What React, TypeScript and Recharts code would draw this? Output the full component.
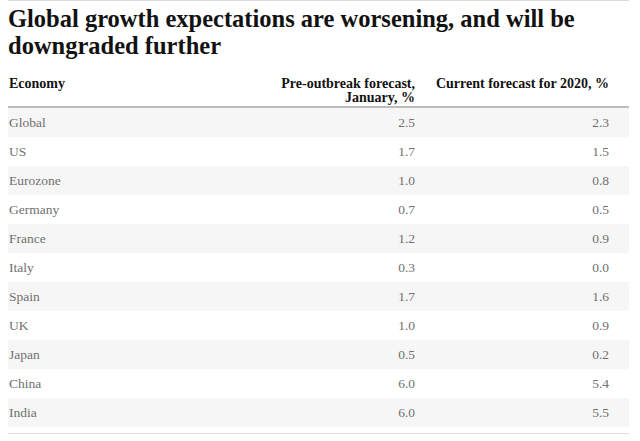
import { BarChart, Bar, XAxis, YAxis, LabelList } from 'recharts'

const economies = ['Global', 'US', 'Eurozone', 'Germany', 'France', 'Italy', 'Spain', 'UK', 'Japan', 'China', 'India']
const preOutbreak = [2.5, 1.7, 1.0, 0.7, 1.2, 0.3, 1.7, 1.0, 0.5, 6.0, 6.0]
const current2020 = [2.3, 1.5, 0.8, 0.5, 0.9, 0.0, 1.6, 0.9, 0.2, 5.4, 5.5]

const titleLines = ['Global growth expectations are worsening, and will be', 'downgraded further']
const colHeaders = {
  economy: ['Economy'],
  pre: ['Pre-outbreak forecast,', 'January, %'],
  current: ['Current forecast for 2020, %'],
}

const rows = economies.map((name, i) => ({ name, pre: preOutbreak[i], current: current2020[i] }))

const W = 640
const H = 441
const LEFT = 8
const RIGHT_EDGE = 629
const PRE_X = 415
const CUR_X = 609
const FONT = '"Liberation Serif", "Times New Roman", serif'

const cellBox = (p: any) => {
  const vb = p.viewBox || p
  return { y: vb.y, h: vb.height }
}

const NameCell = (p: any) => {
  const { y, h } = cellBox(p)
  return (
    <text x={LEFT + 1} y={y + h / 2 + 4.5} fontSize={13.5} fill="#707070" fontFamily={FONT}>
      {p.value}
    </text>
  )
}

const makeValueCell = (x: number) => (p: any) => {
  const { y, h } = cellBox(p)
  return (
    <text x={x} y={y + h / 2 + 4.5} fontSize={13.5} fill="#707070" fontFamily={FONT} textAnchor="end">
      {Number(p.value).toFixed(1)}
    </text>
  )
}

const RowBackground = (p: any) => (
  <rect x={p.x} y={p.y} width={p.width} height={p.height} fill={p.index % 2 === 0 ? '#f6f6f6' : '#ffffff'} />
)

const headerProps = { fontSize: 14, fontWeight: 'bold', fill: '#121212', fontFamily: FONT }

export default function App() {
  return (
    <div style={{ position: 'absolute', left: 0, top: 0, width: W, height: H, background: '#fff' }}>
      <BarChart
        layout="vertical"
        width={W}
        height={H}
        data={rows}
        margin={{ top: 108, right: W - RIGHT_EDGE, bottom: 14, left: LEFT }}
        barCategoryGap={0}
      >
        <XAxis type="number" hide />
        <YAxis type="category" dataKey="name" hide />
        <Bar dataKey="pre" isAnimationActive={false} background={RowBackground} shape={() => <g />}>
          <LabelList dataKey="name" content={NameCell} />
          <LabelList dataKey="pre" content={makeValueCell(PRE_X)} />
          <LabelList dataKey="current" content={makeValueCell(CUR_X)} />
        </Bar>

        <line x1={LEFT} x2={RIGHT_EDGE} y1={0.5} y2={0.5} stroke="#dcdcdc" strokeWidth={1} />
        {titleLines.map((t, i) => (
          <text key={t} x={LEFT} y={27 + i * 27} fontSize={24.5} fontWeight="bold" fill="#121212" fontFamily={FONT}>
            {t}
          </text>
        ))}
        {colHeaders.economy.map((t, i) => (
          <text key={t} x={LEFT + 1} y={88 + i * 14} {...headerProps}>
            {t}
          </text>
        ))}
        {colHeaders.pre.map((t, i) => (
          <text key={t} x={PRE_X} y={88 + i * 14} {...headerProps} textAnchor="end">
            {t}
          </text>
        ))}
        {colHeaders.current.map((t, i) => (
          <text key={t} x={CUR_X} y={88 + i * 14} {...headerProps} textAnchor="end">
            {t}
          </text>
        ))}
        <line x1={LEFT} x2={RIGHT_EDGE} y1={107} y2={107} stroke="#bdbdbd" strokeWidth={2} />
        <line x1={LEFT} x2={RIGHT_EDGE} y1={433.5} y2={433.5} stroke="#dcdcdc" strokeWidth={1} />
      </BarChart>
    </div>
  )
}
